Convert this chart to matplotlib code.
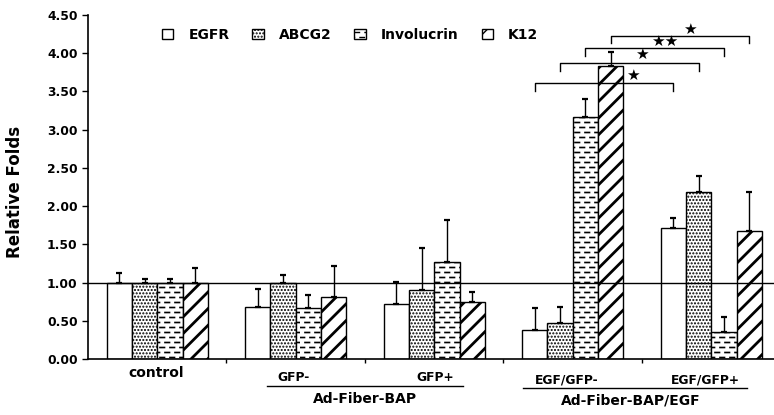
import numpy as np
import matplotlib
matplotlib.use("Agg")
import matplotlib.pyplot as plt
from matplotlib import hatch as mhatch
from matplotlib.path import Path
import matplotlib.transforms as mtransforms

# ---------------- data ----------------
groups = ["control", "GFP-", "GFP+", "EGF/GFP-", "EGF/GFP+"]
genes = ["EGFR", "ABCG2", "Involucrin", "K12"]
egfr = [1.00, 0.685, 0.715, 0.38, 1.71]
egfr_err = [0.12, 0.225, 0.295, 0.29, 0.13]
abcg2 = [1.00, 1.00, 0.907, 0.475, 2.18]
abcg2_err = [0.04, 0.10, 0.543, 0.21, 0.22]
involucrin = [1.00, 0.667, 1.27, 3.16, 0.357]
involucrin_err = [0.04, 0.173, 0.55, 0.24, 0.193]
k12 = [1.00, 0.815, 0.74, 3.83, 1.675]
k12_err = [0.19, 0.405, 0.14, 0.18, 0.515]
yticks = [0.0, 0.5, 1.0, 1.5, 2.0, 2.5, 3.0, 3.5, 4.0, 4.5]

# significance brackets: same gene, EGF/GFP- vs EGF/GFP+
sig_levels = [3.61, 3.87, 4.07, 4.23]
sig_labels = ["\u2605", "\u2605", "\u2605\u2605", "\u2605"]
sig_star_shift = [0.21, 0.09, 0.07, 0.07]
sig_star_y = [3.71, 3.98, 4.16, 4.31]

# ---------------- custom dash hatch (replaces '|') ----------------
class DashHatch(mhatch.HatchPatternBase):
    def __init__(self, hatch, density):
        n = hatch.count('|')
        self.num_rows = 20 * n if n else 0
        self.per_row = 10
        self.num_vertices = self.num_rows * self.per_row * 2

    def set_vertices_and_codes(self, vertices, codes):
        k = 0
        L = 0.045
        for r in range(self.num_rows):
            y = (r + 0.5) / self.num_rows
            off = 0.05 if r % 2 else 0.0
            for c in range(self.per_row):
                x0 = c / self.per_row + off
                vertices[k] = (x0, y)
                vertices[k + 1] = (x0 + L, y)
                codes[k] = Path.MOVETO
                codes[k + 1] = Path.LINETO
                k += 2

mhatch._hatch_types = [DashHatch if t is mhatch.VerticalHatch else t
                       for t in mhatch._hatch_types]

plt.rcParams['font.family'] = ['DejaVu Sans']
plt.rcParams['font.weight'] = 'bold'
plt.rcParams['hatch.color'] = 'black'

W, H = 774, 415
fig = plt.figure(figsize=(W / 100, H / 100), dpi=100)
ax = fig.add_axes([88 / W, 56 / H, 692.5 / W, 344 / H])

values = [egfr, abcg2, involucrin, k12]
errors = [egfr_err, abcg2_err, involucrin_err, k12_err]
hatches = ['', '.....', '|', '//']
hatch_lw = [1.0, 1.0, 1.2, 2.0]
x = np.arange(len(groups)) + 0.5
bw = 0.183
offsets = (np.arange(4) - 1.5) * bw

for i in range(4):
    with plt.rc_context({'hatch.linewidth': hatch_lw[i]}):
        bars = ax.bar(x + offsets[i], values[i], width=bw, color='white',
                      edgecolor='black', linewidth=1.0, hatch=hatches[i],
                      label=genes[i], zorder=2)
        for b in bars:
            if hasattr(b, 'set_hatch_linewidth'):
                b.set_hatch_linewidth(hatch_lw[i])
    ax.errorbar(x + offsets[i], values[i],
                yerr=[np.zeros(len(groups)), errors[i]], fmt='none',
                ecolor='black', elinewidth=1.0, capsize=2.3, capthick=1.6, zorder=3)

ax.axhline(1.0, color='black', lw=1.0, zorder=4)

ax.set_xlim(0, 5)
ax.set_ylim(0, 4.5)
ax.set_yticks(yticks)
ax.set_yticklabels([f"{v:.2f}" for v in yticks], fontsize=8.8, fontweight='bold')
ax.set_xticks([1, 2, 3, 4])
ax.set_xticklabels([])
ax.tick_params(axis='y', direction='out', length=4.5, width=1.0, pad=3)
ax.tick_params(axis='x', direction='out', length=3, width=1.0)
for s in ['top', 'right']:
    ax.spines[s].set_visible(False)
for s in ['left', 'bottom']:
    ax.spines[s].set_linewidth(1.2)

ax.set_ylabel("Relative Folds", fontsize=12, fontweight='bold')
ax.yaxis.set_label_coords(-(88 - 24) / 692.5, (359 - 192) / 344)

# group labels below axis
def ypx(p):
    return (359 - p) / 344

tr = mtransforms.blended_transform_factory(ax.transData, ax.transAxes)
ax.text(0.49, ypx(373), groups[0], transform=tr, ha='center', va='center',
        fontsize=10, fontweight='bold')
sub_x = [1.487, 2.505, 3.456, 4.455]
sub_y = [377, 377, 380, 380]
for g, sx, sy in zip(groups[1:], sub_x, sub_y):
    ax.text(sx, ypx(sy), g, transform=tr, ha='center', va='center',
            fontsize=8.8, fontweight='bold')
ax.plot([1.292, 2.708], [ypx(385.7)] * 2, transform=tr, color='black', lw=1.0,
        clip_on=False)
ax.plot([3.141, 4.756], [ypx(387.7)] * 2, transform=tr, color='black', lw=1.0,
        clip_on=False)
ax.text(2.0, ypx(399), "Ad-Fiber-BAP", transform=tr, ha='center', va='center',
        fontsize=10, fontweight='bold')
ax.text(3.92, ypx(400.5), "Ad-Fiber-BAP/EGF", transform=tr, ha='center',
        va='center', fontsize=10, fontweight='bold')

# significance brackets
for i in range(4):
    x0 = x[3] + offsets[i]
    x1 = x[4] + offsets[i]
    lv = sig_levels[i]
    ax.plot([x0, x0, x1, x1], [lv - 0.1, lv, lv, lv - 0.1], color='black',
            lw=1.0, zorder=5, clip_on=False)
    ax.text((x0 + x1) / 2 + sig_star_shift[i], sig_star_y[i], sig_labels[i],
            ha='center', va='center', fontsize=11, color='black', zorder=6)

leg = fig.legend(loc='upper left', bbox_to_anchor=(162 / W, 1 - 28 / H),
                 ncol=4, frameon=False, fontsize=10, handlelength=0.8,
                 handleheight=0.8, handletextpad=1.1, columnspacing=1.65,
                 borderpad=0, borderaxespad=0)
for t in leg.get_texts():
    t.set_fontweight('bold')

fig.savefig("out.png", dpi=100)
